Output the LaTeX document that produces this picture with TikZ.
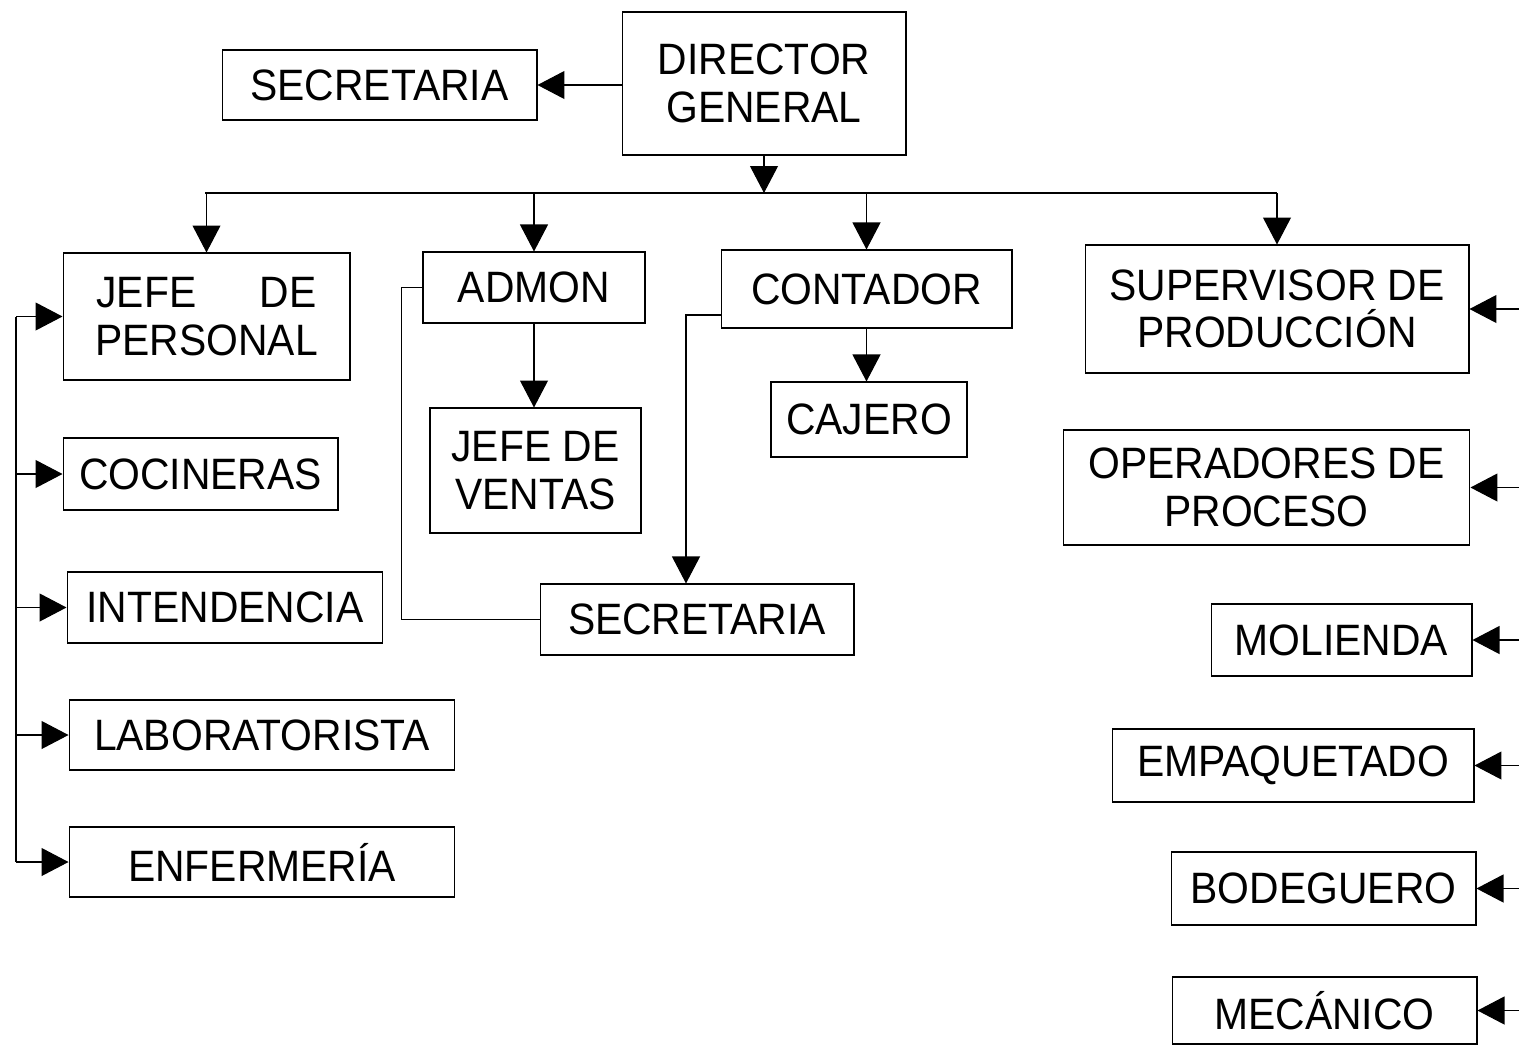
\documentclass[tikz,border=0pt]{standalone}
\usepackage{fontspec}
\setmainfont[FakeStretch=0.93]{Liberation Sans}
\usetikzlibrary{arrows.meta}

\tikzset{
	orgbox/.style={draw, line width=0.6pt, inner sep=0pt, align=center,
		font=\fontsize{25}{27}\selectfont},
	flecha/.style={-{Triangle[length=0.54cm,width=0.56cm]}},
}

\begin{document}
\begin{tikzpicture}[x=0.02cm, y=-0.02cm, line width=0.6pt]
	\useasboundingbox (0,0) rectangle (1519,1046);
	% cabeza
	\node[orgbox, minimum width=5.68cm, minimum height=2.86cm] (dg) at (764,83.5) {DIRECTOR\\GENERAL};
	\node[orgbox, minimum width=6.3cm, minimum height=1.4cm] (sec1) at (379.5,85) {SECRETARIA};
	% segundo nivel
	\node[orgbox, minimum width=5.74cm, minimum height=2.54cm] (jp) at (206.5,316.5) {\makebox[4.4cm][s]{JEFE\hfill DE}\\PERSONAL};
	\node[orgbox, minimum width=4.44cm, minimum height=1.42cm] (admon) at (534,287.5) {ADMON};
	\node[orgbox, minimum width=5.82cm, minimum height=1.56cm] (cont) at (866.5,289) {CONTADOR};
	\node[orgbox, minimum width=7.68cm, minimum height=2.56cm] (sup) at (1277,309) {SUPERVISOR DE\\PRODUCCIÓN};
	% centro
	\node[orgbox, minimum width=4.22cm, minimum height=2.5cm] (jv) at (535.5,470.5) {JEFE DE\\VENTAS};
	\node[orgbox, minimum width=3.92cm, minimum height=1.5cm] (caj) at (869,419.5) {CAJERO};
	\node[orgbox, minimum width=6.28cm, minimum height=1.42cm] (sec2) at (697,619.5) {SECRETARIA};
	% izquierda
	\node[orgbox, minimum width=5.5cm, minimum height=1.44cm] (coc) at (200.5,474) {COCINERAS};
	\node[orgbox, minimum width=6.32cm, minimum height=1.42cm] (int) at (225,607.5) {INTENDENCIA};
	\node[orgbox, minimum width=7.72cm, minimum height=1.4cm] (lab) at (262,735) {LABORATORISTA};
	\node[orgbox, minimum width=7.72cm, minimum height=1.4cm] (enf) at (262,862) {ENFERMERÍA};
	% derecha
	\node[orgbox, minimum width=8.14cm, minimum height=2.3cm] (ope) at (1266.5,487.5) {OPERADORES DE\\PROCESO};
	\node[orgbox, minimum width=5.22cm, minimum height=1.44cm] (mol) at (1341.5,640) {MOLIENDA};
	\node[orgbox, minimum width=7.24cm, minimum height=1.46cm] (emp) at (1293,765.5) {EMPAQUETADO};
	\node[orgbox, minimum width=6.1cm, minimum height=1.46cm] (bod) at (1323.5,888.5) {BODEGUERO};
	\node[orgbox, minimum width=6.1cm, minimum height=1.34cm] (mec) at (1324.5,1010.5) {MECÁNICO};

	\coordinate (busL) at (205,193);
	\coordinate (busR) at (1277,193);
	\coordinate (lt) at (16,0);
	\coordinate (rt) at (1519,0);

	\draw[flecha] (dg.west |- sec1.east) -- (sec1.east);
	\draw[flecha] (dg.south) -- (dg.south |- busL);
	\draw (busL) -- (busR);
	\draw[flecha] (jp.north |- busL) -- (jp.north);
	\draw[flecha] (admon.north |- busL) -- (admon.north);
	\draw[flecha] (cont.north |- busL) -- (cont.north);
	\draw[flecha] (sup.north |- busL) -- (sup.north);

	\draw[flecha] (admon.south) -- (admon.south |- jv.north);
	\draw[flecha] (cont.south) -- (cont.south |- caj.north);
	\draw (admon.west) -- ([xshift=-0.42cm]admon.west) |- (sec2.west);
	\draw[flecha] ([yshift=-0.52cm]cont.west) -| ([xshift=-0.22cm]sec2.north);

	% personal
	\draw (jp.west -| lt) -- (enf.west -| lt);
	\foreach \n in {jp,coc,int,lab,enf}
		\draw[flecha] (\n.west -| lt) -- (\n.west);

	% produccion
	\foreach \n in {sup,ope,mol,emp,bod,mec}
		\draw[flecha] (\n.east -| rt) -- (\n.east);
\end{tikzpicture}
\end{document}
